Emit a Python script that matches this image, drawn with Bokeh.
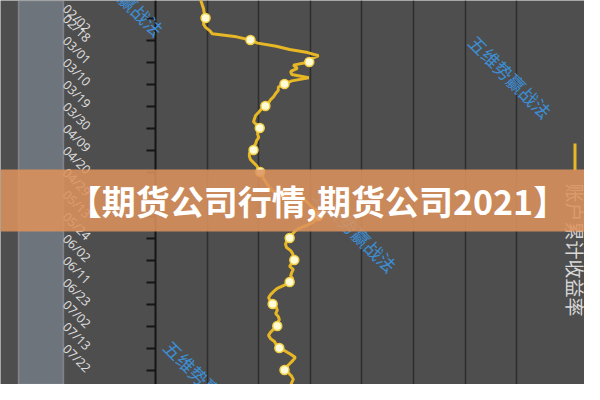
import math
import numpy as np
from bokeh.plotting import figure
from bokeh.models import Range1d, LinearAxis, FixedTicker, Grid, BoxAnnotation, Label
from bokeh.embed import file_html
from bokeh.resources import INLINE

# ---------------- data ----------------
tick_labels = ["02/02", "02/18", "03/01", "03/10", "03/19", "03/30", "04/09", "04/20",
               "04/29", "05/13", "05/24", "06/02", "06/11", "06/23", "07/02", "07/13",
               "07/22", "08/02", "08/11"]
label_step = 7              # trading days between two labelled dates
days_before_first_label = 6 # trading days shown before 02/02
# account cumulative return (%), one value per trading day
returns = [8.7, 8.9, 9.1, 9.3, 9.4, 9.5,
           9.7, 9.4, 9.3, 9.7, 10.5, 11.0, 15.7,
           18.4, 19.8, 23.4, 26.0, 29.5, 31.6, 30.2,
           29.8, 26.7, 27.5, 26.2, 26.4, 29.7, 26.4,
           25.0, 23.8, 23.8, 23.3, 22.9, 22.3, 21.9,
           21.3, 20.5, 20.0, 19.4, 19.2, 19.0, 19.6,
           20.2, 19.8, 19.8, 20.0, 19.6, 19.4, 19.0,
           19.0, 18.2, 18.2, 18.4, 19.0, 19.6, 20.0,
           20.3, 20.7, 20.9, 21.3, 21.7, 22.1, 22.7,
           25.2, 27.1, 28.9, 29.7, 30.2, 31.0, 31.4,
           31.6, 31.2, 30.6, 29.3, 27.7, 26.9, 26.4,
           26.0, 25.4, 25.2, 25.4, 26.2, 26.6, 26.7,
           26.9, 26.4, 26.0, 26.7, 26.4, 26.2, 26.6,
           26.0, 25.0, 23.6, 22.9, 22.3, 21.9, 22.3,
           22.7, 23.4, 23.6, 23.3, 23.8, 24.0, 23.6,
           23.6, 22.9, 22.3, 21.9, 22.3, 23.1, 23.4,
           24.0, 25.2, 26.2, 27.1, 26.6, 26.0, 25.4,
           25.0, 25.8, 26.4, 26.7, 26.4, 26.2, 25.8,
           25.6, 24.2, 23.3, 22.7]
grid_values = [10, 20, 30, 40, 50, 60, 70]
legend_name = "账户累计收益率"
watermark_text = "五维势赢战法"
banner_title = "【期货公司行情,期货公司2021】"

# ---------------- layout helpers (pixels -> data) ----------------
W, H = 584, 384

def vx(px):
    return (px - 155) / 5.16

def ky(py):
    return (py - 17.5) / 3.143

BG = "#4e4e4e"
LINE = "#e8b725"

days = np.arange(len(returns)) - days_before_first_label
vals = np.array(returns)
tick_pos = [i * label_step for i in range(len(tick_labels))]
mark = (days % label_step) == 0

p = figure(width=W, height=H, output_backend="svg", toolbar_location=None,
           x_range=Range1d(vx(0), vx(W)), y_range=Range1d(ky(H), ky(0)),
           x_axis_location=None, y_axis_location=None, min_border=0,
           background_fill_color=BG, border_fill_color=BG, outline_line_color=None)
p.grid.visible = False

# slider-like strip on the left
p.add_layout(BoxAnnotation(left=vx(18), right=vx(63), fill_color="#6d747c", fill_alpha=1,
                           line_color="#d4d4d4", line_width=1.5, level="underlay"))

grid = Grid(dimension=0, ticker=FixedTicker(ticks=grid_values),
            grid_line_color="#2e2e2e", grid_line_width=1.5)
p.add_layout(grid)

yaxis = LinearAxis(fixed_location=0, ticker=FixedTicker(ticks=tick_pos),
                   major_label_overrides={t: l for t, l in zip(tick_pos, tick_labels)})
yaxis.axis_line_color = "#151515"
yaxis.axis_line_width = 2
yaxis.major_tick_line_color = "#151515"
yaxis.major_tick_line_width = 2
yaxis.major_tick_out = 9
yaxis.major_tick_in = 0
yaxis.minor_tick_line_color = None
yaxis.major_label_text_color = "#dadada"
yaxis.major_label_text_font = "Noto Sans"
yaxis.major_label_text_font_size = "12.5px"
yaxis.major_label_orientation = -math.pi / 4
yaxis.major_label_standoff = 58
p.add_layout(yaxis, "left")

p.line(x=vals, y=days, line_color=LINE, line_width=3)
p.scatter(x=vals[mark], y=days[mark], size=9, fill_color="#fffbd6",
          line_color="#f3cf45", line_width=1.5)

# watermarks
for cx, cy in [(122, -6), (510, 76), (355, 230), (205, 381)]:
    p.add_layout(Label(x=vx(cx), y=ky(cy), text=watermark_text, angle=-math.pi / 4,
                       text_align="center", text_baseline="middle",
                       text_color="#3c8fd6", text_font="Noto Sans CJK SC",
                       text_font_size="18px"))

# legend (rotated)
p.add_layout(BoxAnnotation(left=vx(573), right=vx(576), top=ky(143), bottom=ky(170),
                           fill_color=LINE, fill_alpha=1, line_color=None))
p.add_layout(Label(x=vx(574.5), y=ky(183), text=legend_name, angle=-math.pi / 2,
                   text_align="left", text_baseline="middle", text_color="#d8d8d8",
                   text_font="Noto Sans CJK SC", text_font_size="19px"))

# banner
p.add_layout(BoxAnnotation(top=ky(169), bottom=ky(231), fill_color="#dc925c",
                           fill_alpha=0.87, line_color=None))
p.add_layout(Label(x=vx(317), y=ky(200), text=banner_title, text_align="center",
                   text_baseline="middle", text_color="white",
                   text_font="Noto Sans CJK SC", text_font_style="bold",
                   text_font_size="34px"))

open("out.html", "w").write(file_html(p, INLINE))
